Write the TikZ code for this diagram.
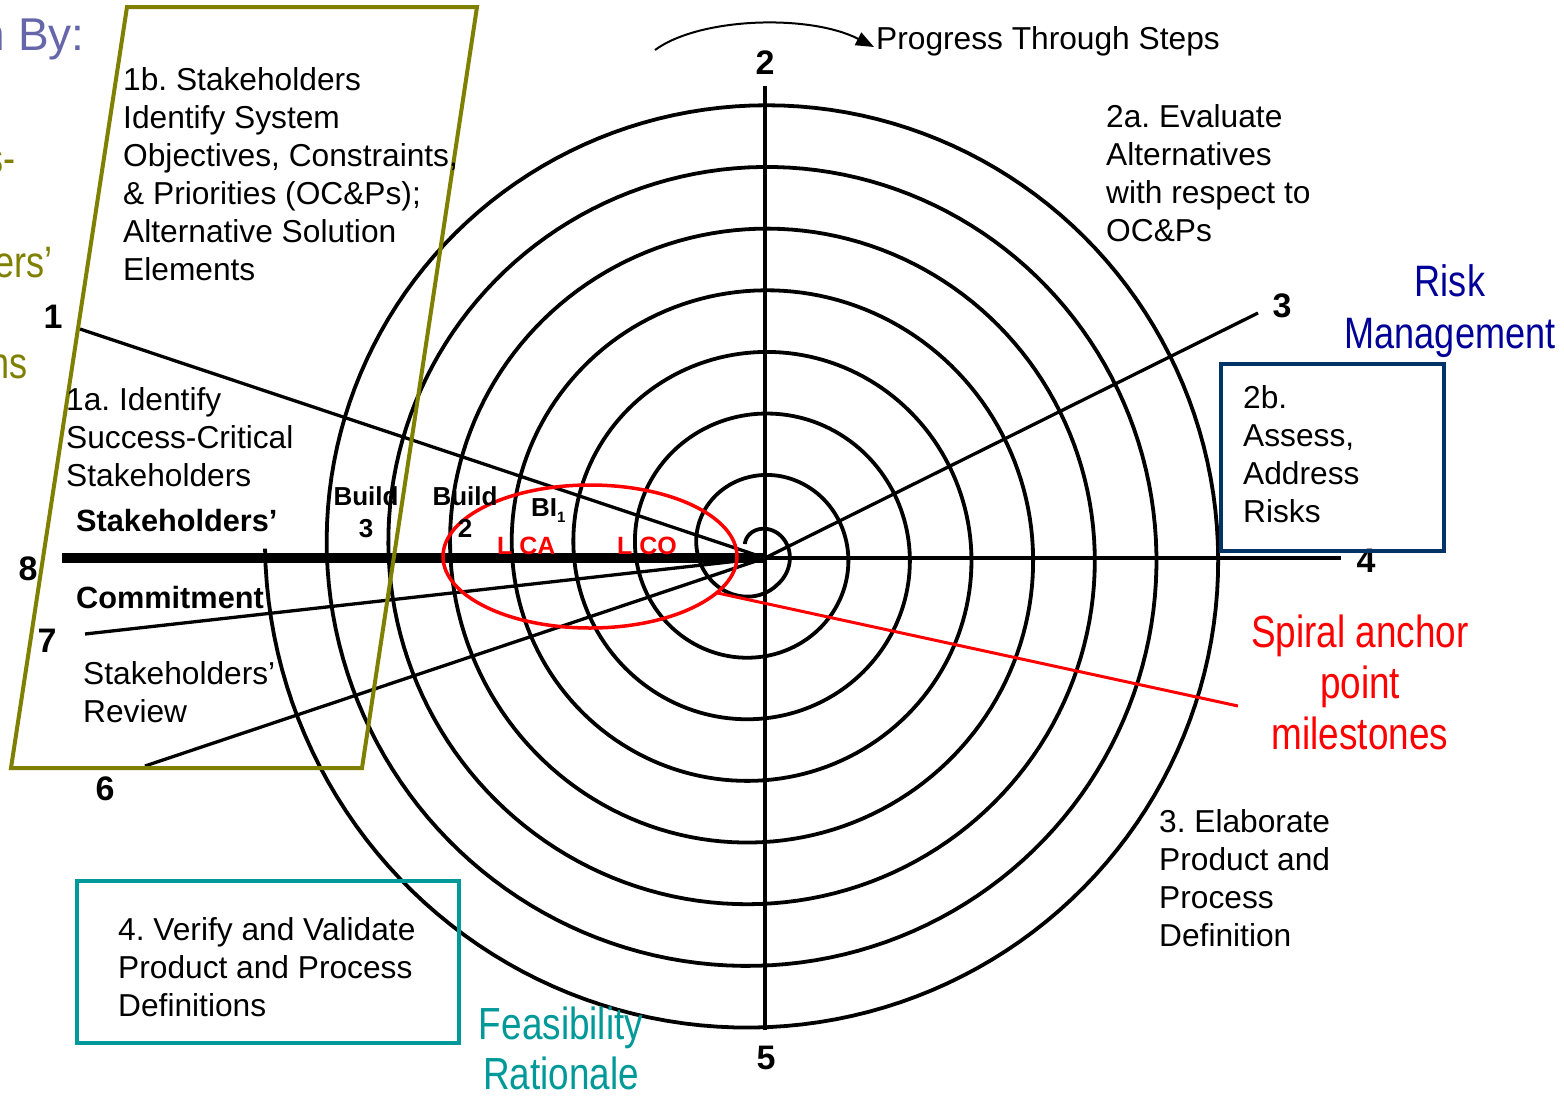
\documentclass[tikz,border=0pt]{standalone}
\usepackage{fontspec}
\setmainfont{Liberation Sans}
\newfontfamily\narrowfont[FakeStretch=0.82]{Liberation Sans}
\usetikzlibrary{shapes.geometric,arrows.meta}
\frenchspacing

\definecolor{olivec}{RGB}{128,128,0}
\definecolor{slatec}{RGB}{102,102,170}
\definecolor{riskblue}{RGB}{0,0,153}
\definecolor{boxblue}{RGB}{0,51,102}
\definecolor{tealc}{RGB}{0,153,153}

\begin{document}
\begin{tikzpicture}[x=1pt,y=-1pt,
  body/.style={font=\fontsize{31.7}{38}\selectfont, align=left, inner sep=0pt, anchor=north west},
  steplabel/.style={font=\fontsize{34}{34}\selectfont\bfseries, inner sep=0pt, anchor=base},
  boldlabel/.style={font=\fontsize{30.7}{30.7}\selectfont\bfseries, inner sep=0pt, anchor=base west},
  buildlabel/.style={font=\fontsize{26}{32}\selectfont\bfseries, align=center, inner sep=0pt, anchor=north},
  milestone/.style={font=\fontsize{25}{25}\selectfont\bfseries, text=red, inner sep=0pt, anchor=base west},
  bigtext/.style={font=\narrowfont\fontsize{45}{51}\selectfont, align=center, inner sep=0pt, anchor=north},
  spiralline/.style={line width=3.8pt, line join=round},
  ray/.style={line width=3.3pt},
  framebox/.style={line width=3.5pt, inner sep=0pt, outer sep=0pt},
]
\fill[white] (0,0) rectangle (1564,1098);
\useasboundingbox (0,0) rectangle (1564,1098);
\clip (0,0) rectangle (1564,1098);

% the spiral (clockwise, starting near the centre)
\draw[spiralline] plot[domain=30:2880.3, samples=1400, variable=\t]
  ({757-(0.1714*\t-1.7+12*max(0,1-\t/240))*cos(\t)},
   {551-(0.1714*\t-1.7+12*max(0,1-\t/240))*sin(\t)});

% radial step lines
\coordinate (O) at (765,558);
\coordinate (e1) at (80,329);
\coordinate (e2) at (765,86);
\coordinate (e3) at (1258,313);
\coordinate (e4) at (1341,558);
\coordinate (e5) at (765,1030);
\coordinate (e6) at (145,766);
\coordinate (e7) at (85,634);
\coordinate (e8) at (62,558);
\draw[ray] (O) -- (e1);
\draw[ray] (e2) -- (e5);
\draw[ray] (O) -- (e3);
\draw[ray] (O) -- (e4);
\draw[ray] (O) -- (e6);
\draw[ray] (O) -- (e7);
\draw[line width=10pt] (e8) -- (O);

% step numbers
\node[steplabel] (n1) at (53,328) {1};
\node[steplabel] (n2) at (765,74) {2};
\node[steplabel] (n3) at (1282,317) {3};
\node[steplabel] (n4) at (1366,572) {4};
\node[steplabel] (n5) at (766,1069) {5};
\node[steplabel] (n6) at (105,800) {6};
\node[steplabel] (n7) at (47,652) {7};
\node[steplabel] (n8) at (28,580) {8};

% stakeholder parallelogram
\draw[olivec, line width=4pt, line join=miter] (127,7) -- (477,7) -- (362,768) -- (11,768) -- cycle;

% anchor point milestones
\node[ellipse, draw=red, line width=3.5pt, minimum width=294pt, minimum height=143pt,
      inner sep=0pt, outer sep=0pt] (anchorring) at (590,556.5) {};
\coordinate (redend) at (1238,706);
\draw[red, line width=3pt] (anchorring.-16) -- (redend);

% framed boxes
\node[framebox, draw=boxblue, minimum width=223pt, minimum height=187pt] (box2b) at (1332.5,457.5) {};
\node[framebox, draw=tealc, minimum width=382pt, minimum height=162pt] (box4) at (268,962) {};

% progress arrow
\node[font=\fontsize{31.7}{38}\selectfont, inner sep=0pt, anchor=base west] (prog) at (876,49) {Progress Through Steps};
\coordinate (progstart) at (655,50);
\coordinate (progtip) at (874,47);
\draw[line width=2pt, -{Triangle[length=18pt,width=14pt]}] (progstart) .. controls (700,17) and (810,14) .. (progtip);

% step texts
\node[body] (t1b) at (123,67) {1b. Stakeholders\\Identify System\\Objectives, Constraints,\\\& Priorities (OC\&Ps);\\Alternative Solution\\Elements};
\node[body] (t1a) at (66,387) {1a. Identify\\Success-Critical\\Stakeholders};
\node[body] (trev) at (83,661) {Stakeholders’\\Review};
\node[body] (t2a) at (1106,104) {2a. Evaluate\\Alternatives\\with respect to\\OC\&Ps};
\node[body] (t2b) at (1243,385) {2b.\\Assess,\\Address\\Risks};
\node[body] (t3) at (1159,809) {3. Elaborate\\Product and\\Process\\Definition};
\node[body] (t4) at (118,917) {4. Verify and Validate\\Product and Process\\Definitions};

\node[boldlabel] (sc1) at (76,531) {Stakeholders’};
\node[boldlabel] (sc2) at (76,608) {Commitment};

% builds and milestones
\node[buildlabel] (b3) at (366,486) {Build\\3};
\node[buildlabel] (b2) at (465,486) {Build\\2};
\node[font=\fontsize{26}{26}\selectfont\bfseries, inner sep=0pt, anchor=base west] (b1) at (531,516)
  {BI\raisebox{-6pt}{\fontsize{15}{15}\selectfont 1}};
\node[milestone] (lca) at (497,554) {L CA};
\node[milestone] (lco) at (617,554) {L CO};

% side headings
\node[bigtext, font=\narrowfont\fontsize{44}{52}\selectfont, text=riskblue] (risk) at (1450,264) {Risk\\Management};
\node[bigtext, text=red] (anchortext) at (1360,615) {Spiral anchor\\point\\milestones};
\node[bigtext, text=tealc, font=\narrowfont\fontsize{45}{50}\selectfont] (feas) at (561,1007) {Feasibility\\Rationale};

% headings running in from the left
\node[font=\fontsize{46}{46}\selectfont, text=slatec, inner sep=0pt, anchor=base east] (by) at (85,50) {n By:};
\node[font=\narrowfont\fontsize{44}{44}\selectfont, text=olivec, inner sep=0pt, anchor=base east] (f1) at (16,173) {s-};
\node[font=\narrowfont\fontsize{44}{44}\selectfont, text=olivec, inner sep=0pt, anchor=base east] (f2) at (53,277) {ers’};
\node[font=\narrowfont\fontsize{44}{44}\selectfont, text=olivec, inner sep=0pt, anchor=base east] (f3) at (28,378) {ns};
\end{tikzpicture}
\end{document}
